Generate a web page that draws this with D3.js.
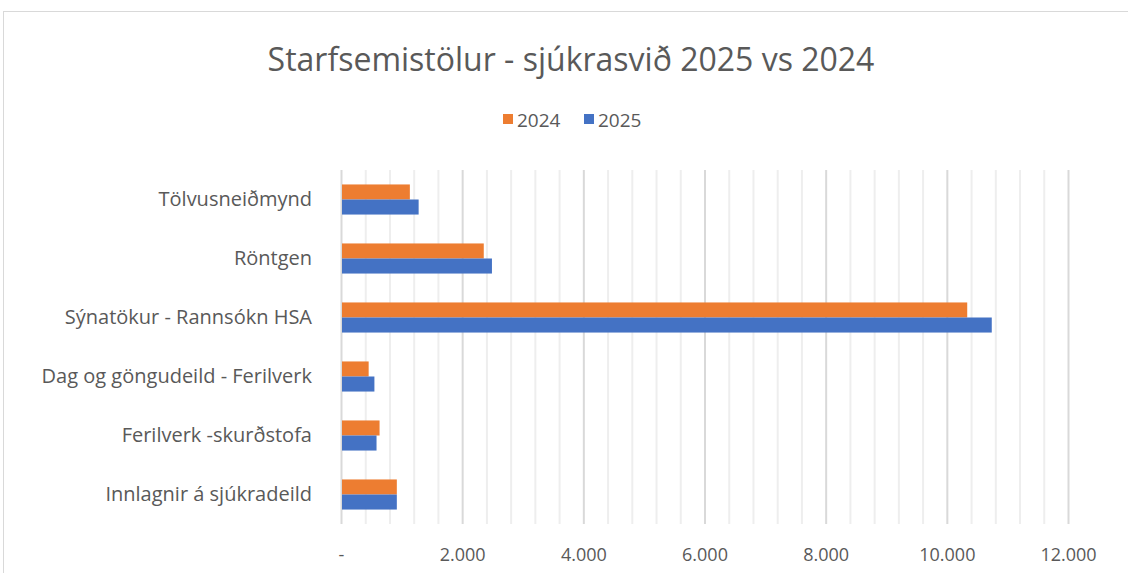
<!DOCTYPE html>
<html>
<head>
<meta charset="utf-8">
<script src="https://cdn.jsdelivr.net/npm/d3@7"></script>
<style>
	body { margin: 0; background: #fff; }
	svg text { font-family: "Open Sans", Lato, sans-serif; fill: #595959; }
</style>
</head>
<body>
<div id="chart"></div>
<script>
// data
var categories = ["Tölvusneiðmynd", "Röntgen", "Sýnatökur - Rannsókn HSA", "Dag og göngudeild - Ferilverk", "Ferilverk -skurðstofa", "Innlagnir á sjúkradeild"];
var seriesNames = ["2024", "2025"];
var values2024 = [1120, 2340, 10320, 440, 620, 905];
var values2025 = [1265, 2475, 10725, 535, 570, 905];
var xTicks = [0, 2000, 4000, 6000, 8000, 10000, 12000];
var title = "Starfsemistölur - sjúkrasvið 2025 vs 2024";

var colors = { "2024": "#ED7D31", "2025": "#4472C4" };
var width = 1128, height = 573;
var margin = { top: 170, right: 60, bottom: 49, left: 341 };

var svg = d3.select("#chart").append("svg")
	.attr("width", width)
	.attr("height", height);

// chart frame
svg.append("rect")
	.attr("x", 3.5).attr("y", 11.5)
	.attr("width", width + 10).attr("height", height + 10)
	.attr("fill", "#fff")
	.attr("stroke", "#d9d9d9");

var x = d3.scaleLinear().domain([0, 12000]).range([margin.left, 1068]);
var y0 = d3.scaleBand().domain(categories)
	.range([margin.top, height - margin.bottom])
	.paddingInner(0.49).paddingOuter(0.245);
var y1 = d3.scaleBand().domain(seriesNames).range([0, y0.bandwidth()]);

var g = svg.append("g");

// minor gridlines
g.append("g").selectAll("line")
	.data(d3.range(400, 12001, 400).filter(function(v){ return v % 2000 !== 0; }))
	.enter().append("line")
		.attr("x1", function(d){ return x(d) + 0.5; })
		.attr("x2", function(d){ return x(d) + 0.5; })
		.attr("y1", margin.top).attr("y2", height - margin.bottom)
		.attr("stroke", "#eeeeee").attr("stroke-width", 2);

// major gridlines
g.append("g").selectAll("line")
	.data(xTicks)
	.enter().append("line")
		.attr("x1", function(d){ return x(d) + 0.5; })
		.attr("x2", function(d){ return x(d) + 0.5; })
		.attr("y1", margin.top).attr("y2", height - margin.bottom)
		.attr("stroke", "#d9d9d9").attr("stroke-width", 2);

// bars
var rows = categories.map(function(c, i){
	return { cat: c, vals: [{ s: "2024", v: values2024[i] }, { s: "2025", v: values2025[i] }] };
});

var groups = g.append("g").selectAll("g")
	.data(rows)
	.enter().append("g")
		.attr("transform", function(d){ return "translate(0," + y0(d.cat) + ")"; });

groups.selectAll("rect")
	.data(function(d){ return d.vals; })
	.enter().append("rect")
		.attr("x", x(0) + 1)
		.attr("y", function(d){ return y1(d.s); })
		.attr("width", function(d){ return x(d.v) - x(0); })
		.attr("height", y1.bandwidth())
		.attr("fill", function(d){ return colors[d.s]; });

// category labels
var yAxis = d3.axisLeft(y0).tickSize(0).tickPadding(29);
svg.append("g")
	.attr("transform", "translate(" + margin.left + ",0)")
	.call(yAxis)
	.call(function(a){ a.select(".domain").remove(); })
	.selectAll("text")
		.style("font-size", "20px")
		.attr("fill", "#595959");

// x tick labels
var loc = d3.formatLocale({ decimal: ",", thousands: ".", grouping: [3], currency: ["", ""] });
var fmt = loc.format(",");
var xAxis = d3.axisBottom(x).tickValues(xTicks).tickSize(0).tickPadding(24)
	.tickFormat(function(d){ return d === 0 ? "-" : fmt(d); });
svg.append("g")
	.attr("transform", "translate(0," + (height - margin.bottom) + ")")
	.call(xAxis)
	.call(function(a){ a.select(".domain").remove(); })
	.selectAll("text")
		.style("font-size", "18px")
		.attr("fill", "#595959");

// title
svg.append("text")
	.attr("x", 571).attr("y", 71)
	.attr("text-anchor", "middle")
	.style("font-size", "32px")
	.text(title);

// legend
var legend = svg.append("g").attr("transform", "translate(503,112)");
var lx = 0;
seriesNames.forEach(function(s){
	var item = legend.append("g").attr("transform", "translate(" + lx + ",0)");
	item.append("rect").attr("width", 10).attr("height", 10).attr("y", 2).attr("fill", colors[s]);
	item.append("text").attr("x", 14).attr("y", 15).style("font-size", "19px").text(s);
	lx += 81;
});
</script>
</body>
</html>
